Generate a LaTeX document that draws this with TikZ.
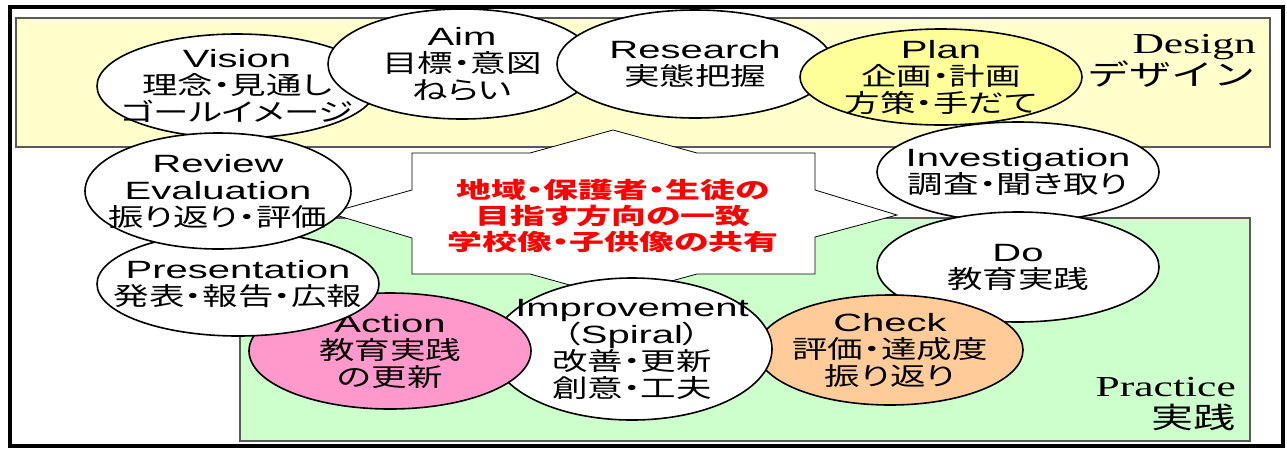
\documentclass[tikz,border=0pt]{standalone}
\usepackage{fontspec}
\usepackage{xcolor}
\usepackage{tikz}
\usetikzlibrary{shapes.geometric, positioning}
\newfontfamily\jpfont[FakeStretch=1.42, RawFeature=+palt]{Noto Sans CJK JP}
\newfontfamily\jpredfont[FakeStretch=1.55, RawFeature=+palt]{Noto Sans CJK JP}
\newfontfamily\jptagfont[FakeStretch=1.45]{Noto Sans CJK JP}
\newfontfamily\enfont[FakeStretch=1.6]{Liberation Sans}
\newfontfamily\serfont[FakeStretch=1.5]{Liberation Serif}
\definecolor{designbg}{HTML}{FFFFCC}
\definecolor{practicebg}{HTML}{CCFFCC}
\definecolor{planfill}{HTML}{FFFF99}
\definecolor{actionfill}{HTML}{FF99CC}
\definecolor{checkfill}{HTML}{FFCC99}

\begin{document}
\begin{tikzpicture}
  [
    x=1pt, y=-1pt,
    Bubble/.style={ellipse, draw=black, fill=white, line width=1.6pt, inner sep=0pt},
    Yellow/.style={Bubble, fill=planfill},
    Pink/.style={Bubble, fill=actionfill},
    Orange/.style={Bubble, fill=checkfill},
    Words/.style={align=center, inner sep=0pt, font=\jpfont\fontsize{25}{27}\selectfont},
    Area/.style={draw=gray!70!black, line width=1.2pt},
    Star/.style={draw=black, fill=white, line width=0.8pt},
    Tag/.style={align=right, anchor=east, inner sep=0pt, font=\jptagfont\fontsize{29}{32}\selectfont}
  ]
  \useasboundingbox (0,0) rectangle (1287,448);

  % Areas
  \draw[Area, fill=designbg] (16,18) rectangle (1270,147);
  \draw[Area, fill=practicebg] (240,218) rectangle (1250,441);

  % Goal
  \draw[Star] (613,130) -- (697,153) -- (815,153) -- (815,190) -- (897,215) -- (815,237)
    -- (815,274) -- (697,274) -- (613,297) -- (530,274) -- (412,274) -- (412,238)
    -- (329,213) -- (412,190) -- (412,153) -- (530,153) -- cycle;
  \node[align=center, inner sep=0pt, text=red, font=\jpredfont\bfseries\fontsize{22.5}{26}\selectfont] (goal) at (613, 216)
    {地域・保護者・生徒の\\目指す方向の一致\\学校像・子供像の共有};

  % Nodes
  \node[Bubble, minimum width=280, minimum height=104, label={[Words]center:{{\enfont Vision}\\理念・見通し\\ゴールイメージ}}] (vision) at (237, 86) {};
  \node[Bubble, minimum width=268, minimum height=110, label={[Words]center:{{\enfont Aim}\\目標・意図\\ねらい}}] (aim) at (462, 64) {};
  \node[Bubble, minimum width=276, minimum height=108, label={[Words]center:{{\enfont Research}\\実態把握}}] (research) at (695, 64) {};
  \node[Yellow, minimum width=282, minimum height=96, label={[Words]center:{{\enfont Plan}\\企画・計画\\方策・手だて}}] (plan) at (941, 77) {};

  \node[Bubble, minimum width=282, minimum height=100, label={[Words]center:{{\enfont Investigation}\\調査・聞き取り}}] (investigation) at (1018, 172) {};
  \node[Bubble, minimum width=282, minimum height=110, label={[Words]center:{{\enfont Do}\\教育実践}}] (do) at (1018, 267) {};
  \node[Orange, minimum width=266, minimum height=110, label={[Words]center:{{\enfont Check}\\評価・達成度\\振り返り}}] (check) at (890, 350) {};
  \node[Bubble, minimum width=280, minimum height=142, label={[Words]center:{{\enfont Improvement}\\（{\enfont Spiral}）\\改善・更新\\創意・工夫}}] (improvement) at (632, 349) {};
  \node[Pink, minimum width=282, minimum height=116, label={[Words]center:{{\enfont Action}\\教育実践\\の更新}}] (action) at (390, 351) {};
  \node[Bubble, minimum width=282, minimum height=104, label={[Words]center:{{\enfont Presentation}\\発表・報告・広報}}] (presentation) at (238, 284) {};
  \node[Bubble, minimum width=266, minimum height=116, label={[Words]center:{{\enfont Review}\\{\enfont Evaluation}\\振り返り・評価}}] (review) at (218, 191) {};

  % Titles
  \node[Tag] (design) at (1256, 61) {{\serfont Design}\\デザイン};
  \node[Tag] (practice) at (1236, 404) {{\serfont Practice}\\実践};

  % Frame
  \draw[line width=4pt] (10,7) rectangle (1283,446);
\end{tikzpicture}
\end{document}
